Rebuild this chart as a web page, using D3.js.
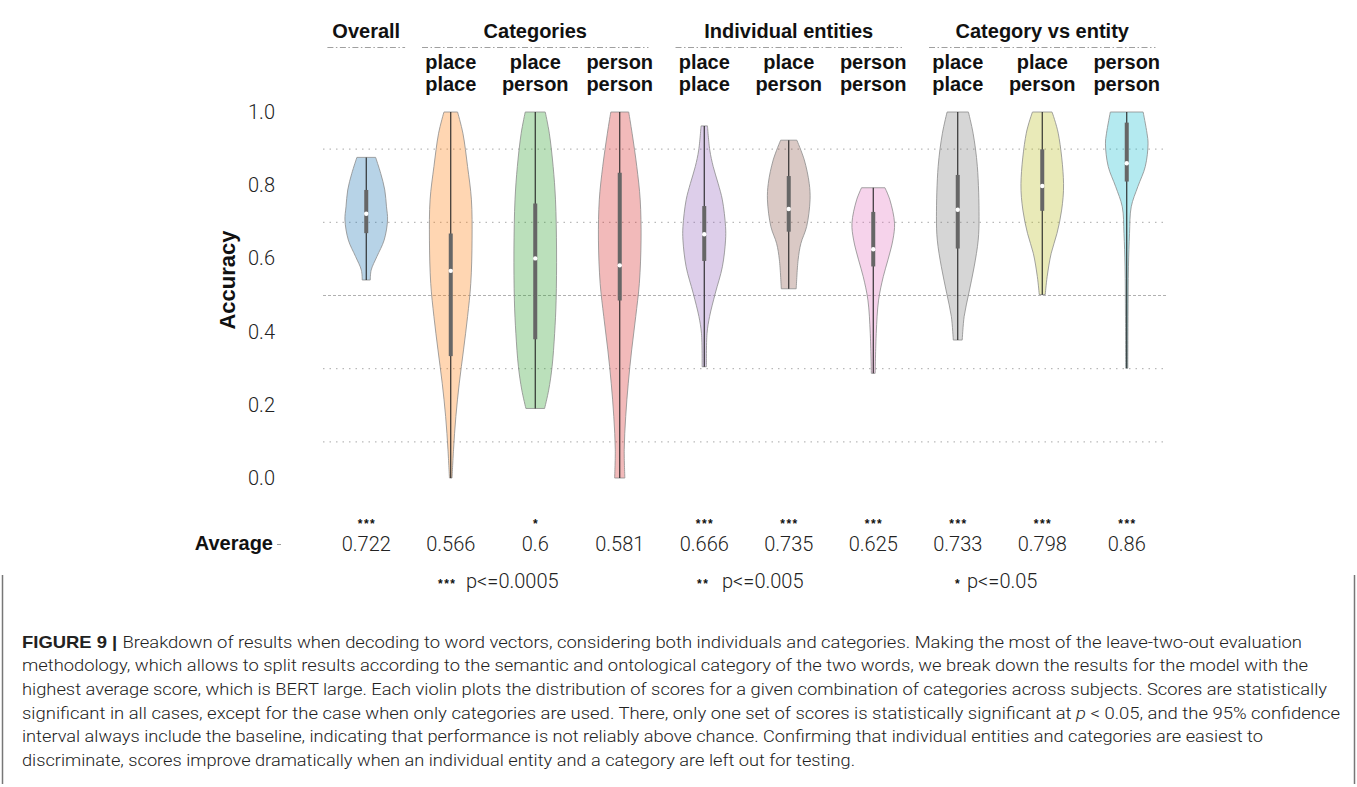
<!DOCTYPE html>
<html>
<head>
<meta charset="utf-8">
<script src="https://cdn.jsdelivr.net/npm/d3@7"></script>
<style>
  html, body { margin: 0; padding: 0; background: #fff; }
  svg { display: block; }
  .light { font-family: Roboto, "Liberation Sans", sans-serif; font-weight: 300; fill: #222; }
  .bold { font-family: "Liberation Sans", Arial, sans-serif; font-weight: bold; fill: #111; }
  .star { font-family: "Liberation Sans", Arial, sans-serif; font-weight: bold; fill: #111; }
</style>
</head>
<body>
<svg id="chart" width="1357" height="787"></svg>
<script>
// ---- data ----
const groupNames = ["Overall", "Categories", "Individual entities", "Category vs entity"];
const groupFirst = [0, 1, 4, 7];
const groupLast = [0, 3, 6, 9];
const topLabels = ["", "place", "place", "person", "place", "place", "person", "place", "place", "person"];
const bottomLabels = ["", "place", "person", "person", "place", "person", "person", "place", "person", "person"];
const averages = [0.722, 0.566, 0.6, 0.581, 0.666, 0.735, 0.625, 0.733, 0.798, 0.86];
const stars = ["***", "", "*", "", "***", "***", "***", "***", "***", "***"];
const q1 = [0.669, 0.333, 0.379, 0.485, 0.593, 0.673, 0.578, 0.627, 0.730, 0.810];
const q3 = [0.787, 0.668, 0.750, 0.834, 0.743, 0.825, 0.727, 0.828, 0.898, 0.971];
// accuracy levels along each violin (bottom to top) and relative density width there
const densityLevels = [
  [0.541, 0.568, 0.605, 0.650, 0.705, 0.741, 0.787, 0.832, 0.876],
  [0.0, 0.077, 0.168, 0.259, 0.350, 0.441, 0.532, 0.650, 0.760, 0.851, 0.942, 1.0],
  [0.190, 0.240, 0.304, 0.395, 0.486, 0.623, 0.760, 0.851, 0.942, 1.0],
  [0.0, 0.077, 0.168, 0.259, 0.350, 0.441, 0.532, 0.650, 0.760, 0.851, 0.942, 1.0],
  [0.304, 0.395, 0.441, 0.505, 0.577, 0.650, 0.687, 0.760, 0.805, 0.851, 0.896, 0.962],
  [0.517, 0.596, 0.641, 0.687, 0.760, 0.805, 0.869, 0.923],
  [0.286, 0.395, 0.486, 0.550, 0.596, 0.650, 0.696, 0.760, 0.793],
  [0.377, 0.441, 0.505, 0.577, 0.650, 0.714, 0.851, 0.942, 1.0],
  [0.501, 0.550, 0.614, 0.668, 0.732, 0.805, 0.942, 1.0],
  [0.300, 0.441, 0.577, 0.668, 0.741, 0.796, 0.851, 0.913, 0.942, 1.0]
];
const densityWidths = [
  [0.19, 0.23, 0.50, 0.84, 1.0, 0.95, 0.87, 0.68, 0.44],
  [0.06, 0.13, 0.24, 0.40, 0.60, 0.79, 0.94, 1.0, 0.97, 0.79, 0.57, 0.32],
  [0.44, 0.63, 0.79, 0.91, 0.98, 1.0, 0.95, 0.84, 0.66, 0.47],
  [0.24, 0.21, 0.28, 0.40, 0.56, 0.75, 0.92, 1.0, 0.96, 0.80, 0.58, 0.42],
  [0.10, 0.13, 0.25, 0.52, 0.85, 1.0, 1.0, 0.85, 0.65, 0.42, 0.26, 0.15],
  [0.35, 0.44, 0.57, 0.84, 1.0, 0.96, 0.73, 0.38],
  [0.09, 0.14, 0.25, 0.47, 0.69, 0.92, 1.0, 0.78, 0.55],
  [0.21, 0.30, 0.52, 0.77, 0.96, 1.0, 0.92, 0.72, 0.50],
  [0.14, 0.23, 0.42, 0.69, 0.91, 1.0, 0.75, 0.46],
  [0.05, 0.06, 0.08, 0.13, 0.21, 0.52, 0.87, 1.0, 0.95, 0.77]
];
const yTicks = [0, 0.2, 0.4, 0.6, 0.8, 1.0];
const gridDotted = [0.1, 0.3, 0.7, 0.9];
const gridDashed = [0.5];
const legendStars = ["***", "**", "*"];
const legendTexts = ["p<=0.0005", "p<=0.005", "p<=0.05"];
const captionLines = [
  "Breakdown of results when decoding to word vectors, considering both individuals and categories. Making the most of the leave-two-out evaluation",
  "methodology, which allows to split results according to the semantic and ontological category of the two words, we break down the results for the model with the",
  "highest average score, which is BERT large. Each violin plots the distribution of scores for a given combination of categories across subjects. Scores are statistically",
  "significant in all cases, except for the case when only categories are used. There, only one set of scores is statistically significant at ",
  "interval always include the baseline, indicating that performance is not reliably above chance. Confirming that individual entities and categories are easiest to",
  "discriminate, scores improve dramatically when an individual entity and a category are left out for testing."
];

// ---- layout ----
const svg = d3.select("#chart");
const idx = d3.range(averages.length);
const x = d3.scaleBand().domain(idx).range([324, 1169]).padding(0);
const cx = i => x(i) + x.bandwidth() / 2;
const y = d3.scaleLinear().domain([0, 1]).range([478, 112]);
const halfW = d3.scaleLinear().domain([0, 1]).range([0, 21.3]);
const colors = d3.schemeCategory10;

// grid lines
const gridG = svg.append("g");
gridG.selectAll("line.dot").data(gridDotted).join("line")
  .attr("x1", 323).attr("x2", 1168)
  .attr("y1", d => y(d) + 0.5).attr("y2", d => y(d) + 0.5)
  .attr("stroke", "#a8a8a8").attr("stroke-width", 1)
  .attr("stroke-dasharray", "1.5,5");
gridG.selectAll("line.dash").data(gridDashed).join("line")
  .attr("x1", 323).attr("x2", 1168)
  .attr("y1", d => y(d) + 0.5).attr("y2", d => y(d) + 0.5)
  .attr("stroke", "#b0b0b0").attr("stroke-width", 1)
  .attr("stroke-dasharray", "3,2");

// y axis (labels only)
const yAxis = d3.axisLeft(y).tickValues(yTicks).tickSize(0).tickPadding(5).tickFormat(d3.format(".1f"));
const ax = svg.append("g").attr("transform", "translate(280,0)").call(yAxis);
ax.select(".domain").remove();
ax.selectAll("text").attr("class", "light").attr("font-size", 20).attr("fill", "#222");

svg.append("text").attr("class", "bold")
  .attr("transform", "translate(235,280) rotate(-90)")
  .attr("text-anchor", "middle").attr("font-size", 22)
  .text("Accuracy");

// violins
const area = d3.area()
  .curve(d3.curveCatmullRom)
  .y(d => y(d[0]));

idx.forEach(i => {
  const pts = densityLevels[i].map((v, k) => [v, densityWidths[i][k]]);
  const g = svg.append("g");
  const c = cx(i);
  g.append("path")
    .datum(pts)
    .attr("d", area.x0(d => c - halfW(d[1])).x1(d => c + halfW(d[1])))
    .attr("fill", colors[i]).attr("fill-opacity", 0.32)
    .attr("stroke", "#8c8c8c").attr("stroke-opacity", 0.8).attr("stroke-width", 1);
  const lo = densityLevels[i][0], hi = densityLevels[i][densityLevels[i].length - 1];
  g.append("line")
    .attr("x1", c).attr("x2", c).attr("y1", y(lo)).attr("y2", y(hi))
    .attr("stroke", "#222").attr("stroke-width", 1.1);
  g.append("line")
    .attr("x1", c).attr("x2", c).attr("y1", y(q1[i])).attr("y2", y(q3[i]))
    .attr("stroke", "#666").attr("stroke-width", 4);
  g.append("circle")
    .attr("cx", c).attr("cy", y(averages[i])).attr("r", 2.2)
    .attr("fill", "#fff");
});

// group headers
groupNames.forEach((name, gi) => {
  const a = cx(groupFirst[gi]), b = cx(groupLast[gi]);
  const pad = groupFirst[gi] === groupLast[gi] ? 0.46 * x.bandwidth() : 0.34 * x.bandwidth();
  svg.append("text").attr("class", "bold")
    .attr("x", (a + b) / 2).attr("y", 38)
    .attr("text-anchor", "middle").attr("font-size", 20)
    .text(name);
  svg.append("line")
    .attr("x1", a - pad).attr("x2", b + pad)
    .attr("y1", 47.5).attr("y2", 47.5)
    .attr("stroke", "#a0a0a0").attr("stroke-width", 1)
    .attr("stroke-dasharray", "6,2.5,1.5,2.5");
});

// condition labels
svg.append("g").selectAll("text").data(idx).join("text")
  .attr("class", "bold").attr("font-size", 20).attr("text-anchor", "middle")
  .attr("x", i => cx(i)).attr("y", 69)
  .text(i => topLabels[i]);
svg.append("g").selectAll("text").data(idx).join("text")
  .attr("class", "bold").attr("font-size", 20).attr("text-anchor", "middle")
  .attr("x", i => cx(i)).attr("y", 91)
  .text(i => bottomLabels[i]);

// averages row
svg.append("text").attr("class", "bold")
  .attr("x", 273).attr("y", 550).attr("text-anchor", "end").attr("font-size", 20)
  .text("Average");
svg.append("line").attr("x1", 277).attr("x2", 281).attr("y1", 544.5).attr("y2", 544.5)
  .attr("stroke", "#999").attr("stroke-width", 1);
svg.append("g").selectAll("text").data(idx).join("text")
  .attr("class", "light").attr("font-size", 20).attr("text-anchor", "middle")
  .attr("x", i => cx(i)).attr("y", 551)
  .text(i => String(averages[i]));
svg.append("g").selectAll("text").data(idx).join("text")
  .attr("class", "star").attr("font-size", 12)
  .attr("letter-spacing", 1.5).attr("text-anchor", "middle")
  .attr("x", i => cx(i) + 0.75).attr("y", 528)
  .text(i => stars[i]);

// significance legend
const legendX = [438, 697, 955];
const legendTextX = [466, 722, 967];
legendStars.forEach((s, k) => {
  svg.append("text").attr("class", "star").attr("font-size", 12)
    .attr("letter-spacing", 1.5)
    .attr("x", legendX[k]).attr("y", 588).text(s);
  svg.append("text").attr("class", "light").attr("font-size", 20)
    .attr("x", legendTextX[k]).attr("y", 588).text(legendTexts[k]);
});

// caption frame
svg.append("line").attr("x1", 2.5).attr("x2", 2.5).attr("y1", 575).attr("y2", 784)
  .attr("stroke", "#777").attr("stroke-width", 1.5);
svg.append("line").attr("x1", 1354.5).attr("x2", 1354.5).attr("y1", 575).attr("y2", 784)
  .attr("stroke", "#777").attr("stroke-width", 1.5);

// caption text
const capEnds = [1302, 1308, 1327, 1340, 1263, 855];
const capBase = 647.7, capStep = 23.6;
captionLines.forEach((line, k) => {
  const t = svg.append("text").attr("class", "light")
    .attr("x", 22).attr("y", capBase + k * capStep)
    .attr("font-size", 17).attr("fill", "#333")
    .attr("textLength", capEnds[k] - 22).attr("lengthAdjust", "spacingAndGlyphs");
  if (k === 0) {
    t.append("tspan").attr("font-family", "'Liberation Sans', Arial, sans-serif")
      .attr("font-weight", "bold").attr("fill", "#222").text("FIGURE 9 | ");
  }
  t.append("tspan").text(line);
  if (k === 3) {
    t.append("tspan").attr("font-style", "italic").text("p");
    t.append("tspan").text(" < 0.05, and the 95% confidence");
  }
});
</script>
</body>
</html>
